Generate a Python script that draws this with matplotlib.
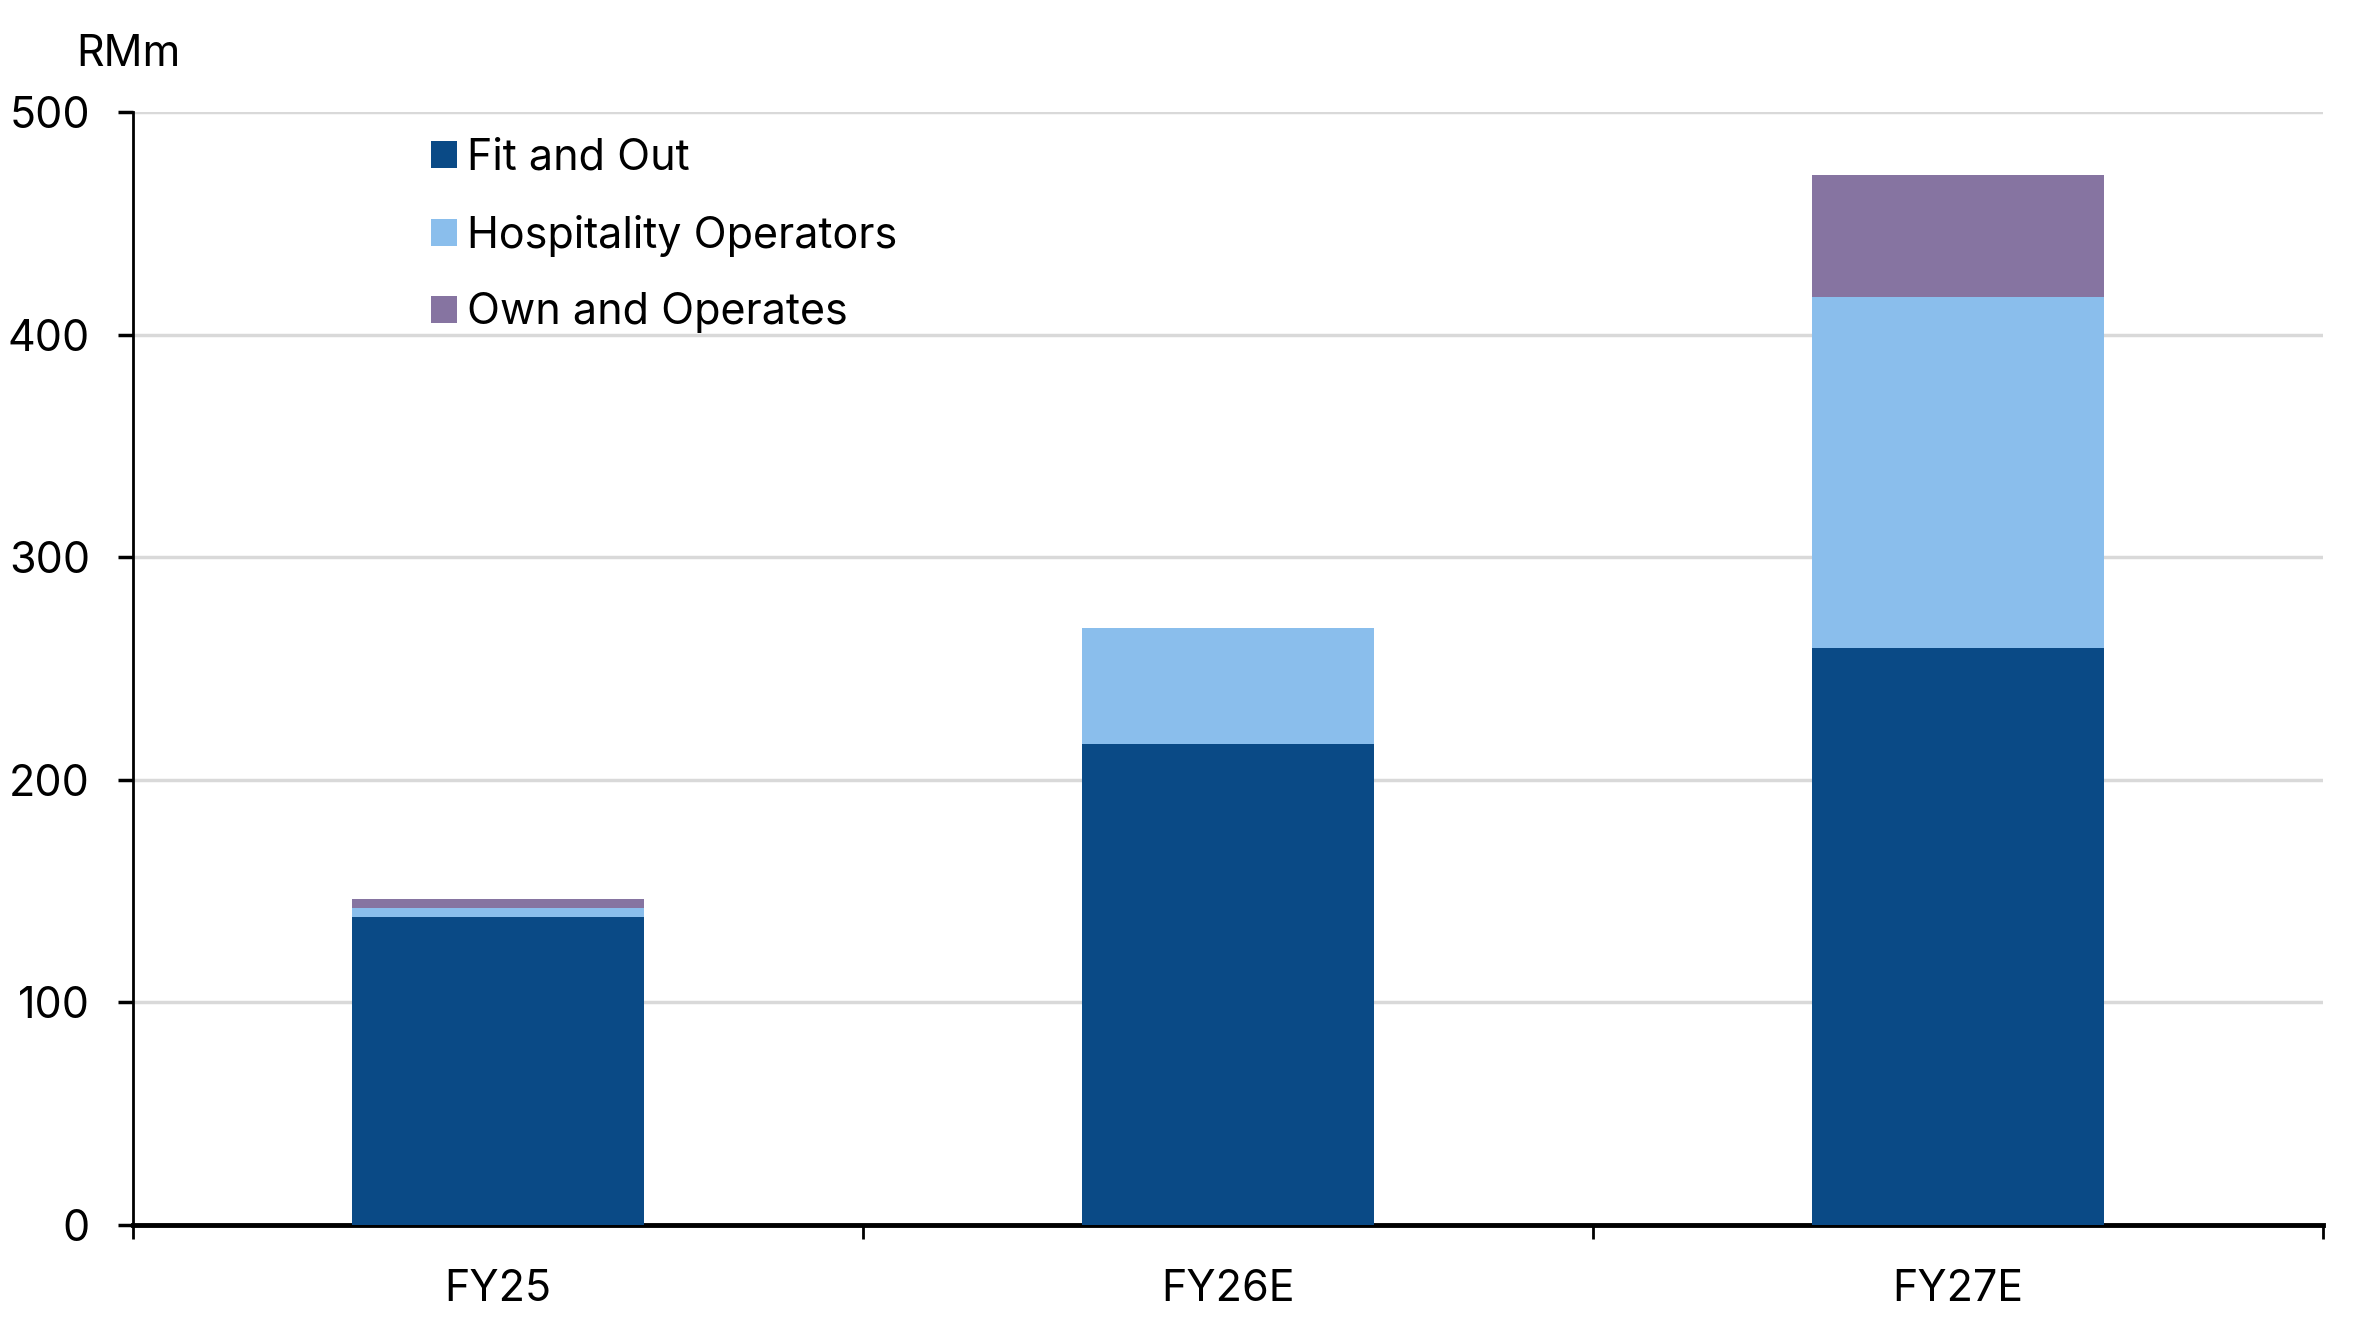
import matplotlib
matplotlib.use('Agg')
import matplotlib.pyplot as plt
import numpy as np

# data (RMm)
categories = ['FY25', 'FY26E', 'FY27E']
fit_and_out = [138.2, 216, 259]
hospitality = [4.2, 52, 158]
own_operates = [4.0, 0, 55]

series = ['Fit and Out', 'Hospitality Operators', 'Own and Operates']
colors = ['#0A4A86', '#8ABEEC', '#8674A1']

plt.rcParams['font.family'] = ['Inter', 'DejaVu Sans']

fig = plt.figure(figsize=(23.75, 13.23), dpi=100)
ax = fig.add_axes([0.056, 0.0743, 0.922, 0.8408])

x = np.arange(len(categories))
bottom = np.zeros(len(categories))
for name, vals, col in zip(series, [fit_and_out, hospitality, own_operates], colors):
    ax.bar(x, vals, width=0.4, bottom=bottom, color=col, label=name, zorder=3)
    bottom += np.array(vals)

ax.set_xlim(-0.5, len(categories) - 0.5)
ax.set_ylim(0, 500)
ax.set_yticks(np.arange(0, 501, 100))
ax.yaxis.grid(True, color='#D9D9D9', linewidth=2.5, zorder=0)
ax.set_axisbelow(True)

# category boundaries get the tick marks, labels sit at the centres
ax.set_xticks(np.arange(-0.5, len(categories), 1.0))
ax.set_xticklabels([])
ax.set_xticks(x, minor=True)
ax.set_xticklabels(categories, minor=True)
ax.tick_params(axis='x', which='major', direction='out', length=10, width=2)
ax.tick_params(axis='x', which='minor', length=0, pad=32, labelsize=31)
ax.tick_params(axis='y', direction='out', length=11, width=2.5, labelsize=31, pad=20)

for s in ['top', 'right']:
    ax.spines[s].set_visible(False)
ax.spines['left'].set_linewidth(2)
ax.spines['bottom'].set_linewidth(3.5)

fig.text(76 / 2375, 1 - 66 / 1323, 'RMm', fontsize=31, va='baseline', ha='left')

ax.legend(loc='upper left', bbox_to_anchor=(0.136, 0.977), frameon=False,
          fontsize=31, handlelength=0.6, handleheight=0.6, handletextpad=0.24,
          labelspacing=0.83, borderpad=0, borderaxespad=0)

fig.savefig('out.png', dpi=100)
